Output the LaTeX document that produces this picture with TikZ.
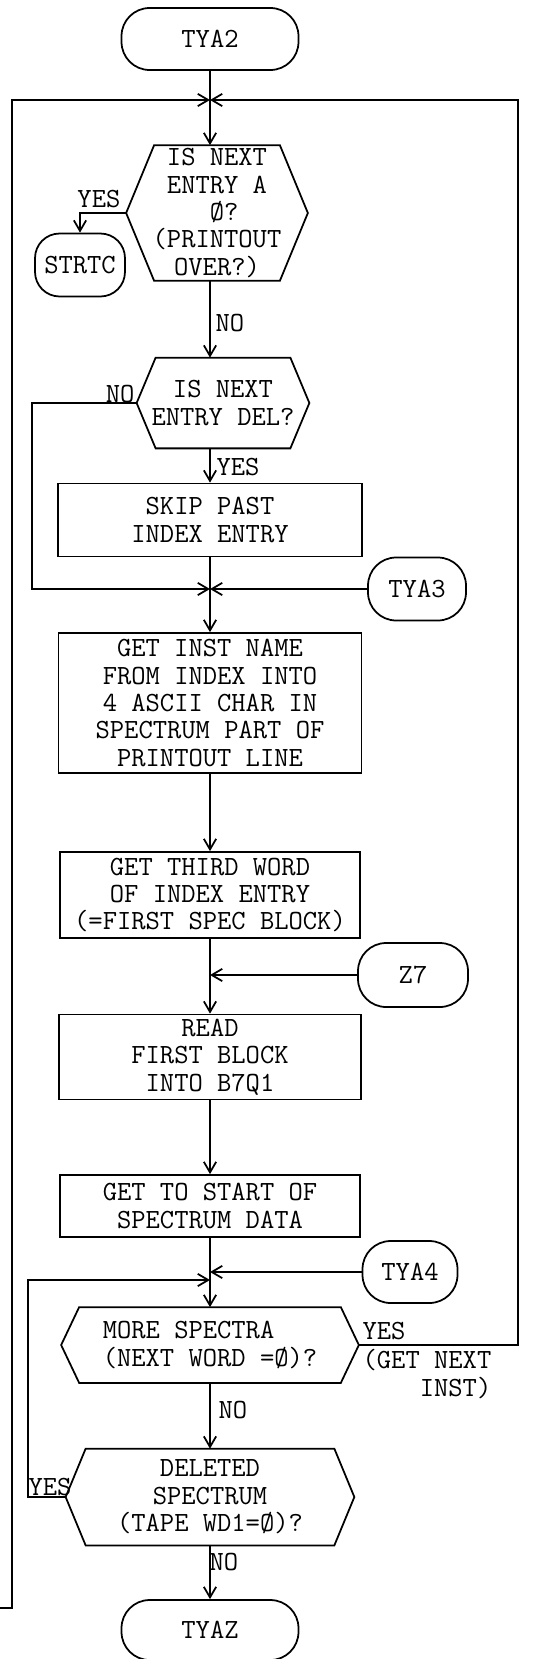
\documentclass[tikz,border=0pt]{standalone}
\usepackage{fontspec}
\usetikzlibrary{arrows.meta,shapes.misc}
\newcommand{\hexbox}[2]{\draw (#1.west) -- ([xshift=#2]#1.north west) -- ([xshift=-#2]#1.north east) -- (#1.east) -- ([xshift=-#2]#1.south east) -- ([xshift=#2]#1.south west) -- cycle;}
\begin{document}
\begin{tikzpicture}[x=0.02cm,y=-0.02cm,
        font=\ttfamily\fontsize{15.8}{15.6}\selectfont,
        line width=1pt,
        >={Straight Barb[length=6pt,width=7pt]},
        term/.style={draw, rectangle, rounded corners=16pt, inner sep=1pt},
        test/.style={rectangle, inner sep=0pt, align=center},
        proc/.style={draw, rectangle, inner sep=2pt, align=center},
        lbl/.style={inner sep=1pt}]
            \useasboundingbox (0,0) rectangle (558,1659);
            % Blocs
            \node[term, minimum width=3.54cm, minimum height=1.24cm] (tya2) at (210,39) {TYA2};
            \coordinate (j1) at (210,100);
            \node[test, minimum width=3.6cm, minimum height=2.68cm] (q1) at (217,213) {IS NEXT\\ENTRY A\\~Ø?\\(PRINTOUT\\OVER?)};
            \node[term, minimum width=1.8cm, minimum height=1.26cm, rounded corners=14pt] (strtc) at (80,265) {STRTC};
            \node[test, minimum width=3.42cm, minimum height=1.78cm] (q2) at (223,403) {IS NEXT\\ENTRY DEL?};
            \node[proc, minimum width=6.08cm, minimum height=1.46cm] (box1) at (210,520) {SKIP PAST\\INDEX ENTRY};
            \coordinate (j2) at (210,589);
            \node[term, minimum width=1.96cm, minimum height=1.26cm] (tya3) at (417,589) {TYA3\hspace{16pt}};
            \node[proc, minimum width=6.06cm, minimum height=2.8cm] (box2) at (210,703) {GET INST NAME\\FROM INDEX INTO\\4 ASCII CHAR IN\\SPECTRUM PART OF\\PRINTOUT LINE};
            \node[proc, minimum width=6cm, minimum height=1.72cm] (box3) at (210,895) {GET THIRD WORD\\OF INDEX ENTRY\\(=FIRST SPEC BLOCK)};
            \node[term, minimum width=2.2cm, minimum height=1.28cm] (z7) at (413,975) {Z7\hspace{26pt}};
            \node[proc, minimum width=6.04cm, minimum height=1.7cm] (box4) at (210,1057) {READ\\FIRST BLOCK\\INTO B7Q1};
            \node[proc, minimum width=6cm, minimum height=1.24cm] (box5) at (210,1206) {GET TO START OF\\SPECTRUM DATA};
            \node[term, minimum width=1.9cm, minimum height=1.24cm] (tya4) at (410,1272) {TYA4};
            \node[test, align=left, minimum width=5.92cm, minimum height=1.48cm] (q3) at (210,1345) {MORE SPECTRA\\(NEXT WORD =Ø)?};
            \node[test, minimum width=5.74cm, minimum height=1.9cm] (q4) at (210,1497) {DELETED\\SPECTRUM\\(TAPE WD1=Ø)?};
            \node[term, minimum width=3.54cm, minimum height=1.2cm] (tyaz) at (210,1630) {TYAZ};
            % Tests
            \hexbox{q1}{0.56cm}
            \hexbox{q2}{0.38cm}
            \hexbox{q3}{0.36cm}
            \hexbox{q4}{0.4cm}
            % Coins des boucles
            \coordinate (off) at (0,1608);
            \coordinate (c1) at (12,100);
            \coordinate (c2) at (32,589);
            \coordinate (c3) at (518,100);
            \coordinate (c4) at (28,1280);
            % Liaisons
            \draw (tya2) -- (j1);
            \draw[->] (j1) -- (j1 |- q1.north);
            \draw[->] (q1.west) -| (strtc.north);
            \draw[->] (q1.south -| j1) -- (q2.north -| j1);
            \draw[->] (q2.west) -| (c2) -- (j2);
            \draw[->] (q2.south -| j1) -- (box1.north -| j1);
            \draw (box1) -- (j2);
            \draw[->] (tya3) -- (j2);
            \draw[->] (j2) -- (box2);
            \foreach \a/\b in {box2/box3,box3/box4,box4/box5,box5/q3,q3/q4,q4/tyaz}
                \draw[->] (\a) -- (\b);
            \draw[->] (z7) -- (z7 -| box3.south);
            \draw[->] (tya4) -- (tya4 -| box5.south);
            \draw[->] (q4.west) -| (c4) -- (c4 -| box5.south);
            \draw[->] (q3.east) -| (c3) -- (j1);
            \draw[->] (off) -| (c1) -- (j1);
            % Etiquettes
            \node[lbl, anchor=south east] (yes1) at (123,210) {YES};
            \node[lbl, anchor=west] (no1) at (213,323) {NO};
            \node[lbl, anchor=south east] (no2) at (137,405) {NO};
            \node[lbl, anchor=west] (yes2) at (214,467) {YES};
            \node[lbl, anchor=south west] (yes3) at (360,1342) {YES};
            \node[lbl, anchor=north west, align=right] (next) at (360,1347) {(GET NEXT\\INST)};
            \node[lbl, anchor=west] (no3) at (216,1410) {NO};
            \node[lbl, anchor=south west] (yes4) at (26,1498) {YES};
            \node[lbl, anchor=west] (no4) at (207,1562) {NO};
        \end{tikzpicture}
\end{document}
